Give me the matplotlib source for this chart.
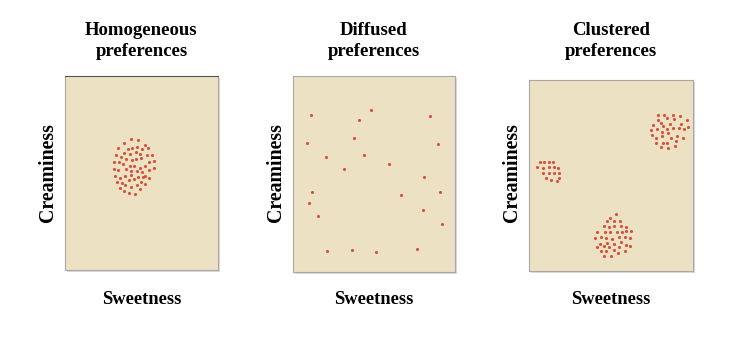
import matplotlib.pyplot as plt
from matplotlib.patches import Rectangle

# point positions (panel units, y grows downward)
homog_x = [215, 235, 193, 258, 175, 205, 218, 233, 248, 267, 192, 210, 228, 242,
           168, 185, 262, 278, 200, 217, 229, 245, 268, 284, 162, 177, 190, 210,
           224, 240, 257, 162, 176, 200, 215, 232, 246, 268, 285, 165, 180, 196,
           215, 234, 251, 258, 270, 172, 187, 207, 222, 245, 196, 213, 233, 257,
           182, 242, 192, 208, 227]
homog_y = [210, 211, 220, 226, 236, 240, 236, 233, 240, 236, 250, 255, 248, 253,
           256, 263, 256, 256, 268, 271, 269, 265, 278, 275, 277, 277, 285, 290,
           290, 296, 291, 298, 302, 300, 305, 305, 307, 302, 297, 319, 326, 321,
           316, 322, 322, 320, 325, 339, 340, 331, 330, 337, 347, 352, 346, 344,
           355, 358, 365, 372, 373]

diff_x = [65, 243, 207, 418, 193, 53, 442, 110, 223, 162, 295, 400, 67, 331,
          447, 59, 397, 85, 453, 113, 187, 257, 379]
diff_y = [137, 122, 153, 140, 205, 222, 224, 262, 257, 300, 285, 323, 367, 375,
          366, 401, 421, 439, 462, 545, 540, 547, 537]

clust_x = [400, 418, 444, 466, 400, 427, 448, 485, 385, 408, 436, 468, 415, 379,
           397, 425, 445, 462, 478, 490, 410, 430, 380, 394, 410, 438, 457, 475,
           392, 413, 426, 454, 408, 429, 450,
           45, 57, 72, 84, 38, 56, 73, 88, 101, 55, 72, 88, 104, 65, 80, 96, 104,
           273, 255, 246, 266, 285, 237, 253, 268, 287, 302, 216, 240, 257, 275,
           290, 304, 319, 210, 228, 244, 261, 281, 300, 315, 225, 248, 268, 287,
           303, 217, 238, 254, 283, 316, 230, 245, 268, 299, 237, 258, 278]
clust_y = [121, 121, 121, 125, 137, 131, 135, 137, 152, 145, 148, 149, 155, 166,
           165, 163, 160, 160, 165, 157, 174, 176, 183, 190, 186, 192, 185, 190,
           207, 205, 206, 200, 217, 220, 216,
           264, 264, 264, 264, 278, 281, 279, 278, 281, 297, 296, 296, 297, 311,
           316, 320, 310,
           418, 430, 440, 440, 440, 455, 456, 455, 455, 457, 472, 472, 472, 471,
           472, 470, 470, 490, 486, 491, 492, 488, 488, 491, 506, 503, 507, 500,
           511, 517, 514, 515, 515, 514, 527, 528, 525, 527, 543, 543, 534]

titles = ["Homogeneous\npreferences", "Diffused\npreferences", "Clustered\npreferences"]
panels = [(homog_x, homog_y, (15, 477), (602, 20)),
          (diff_x, diff_y, (12, 492), (607, 20)),
          (clust_x, clust_y, (13, 504), (588, 18))]
boxes = [(65, 76, 218, 270), (293, 76, 455, 272), (529, 80, 693, 271)]

W, H = 732, 338
fig = plt.figure(figsize=(W / 100, H / 100), dpi=100)
font = "Liberation Serif"

for (xs, ys, xl, yl), (x0, y0, x1, y1), title in zip(panels, boxes, titles):
    # soft shadow behind the panel
    fig.patches.append(Rectangle(((x0 + 2) / W, 1 - (y1 + 2) / H), (x1 - x0) / W,
                                 (y1 - y0) / H, transform=fig.transFigure,
                                 facecolor="#d9d9d9", edgecolor="none", zorder=-1))
    ax = fig.add_axes([x0 / W, 1 - y1 / H, (x1 - x0) / W, (y1 - y0) / H])
    ax.set_facecolor("#ede1c4")
    ax.scatter(xs, ys, s=5, color="#d6503a", linewidths=0)
    ax.set_xlim(*xl)
    ax.set_ylim(*yl)
    ax.set_xticks([])
    ax.set_yticks([])
    for sp in ax.spines.values():
        sp.set_color("#a8a8a8")
        sp.set_linewidth(0.8)
    cx = (x0 + x1) / 2 / W
    fig.text(cx, 1 - 41 / H, title, ha="center", va="center", fontsize=13.5,
             fontweight="bold", family=font, linespacing=1.3)
    fig.text(cx, 1 - 300 / H, "Sweetness", ha="center", va="center", fontsize=13.3,
             fontweight="bold", family=font)
    fig.text((x0 - 17) / W, 1 - 173 / H, "Creaminess", ha="center", va="center",
             rotation=90, fontsize=14.3, fontweight="bold", family=font)

fig.axes[0].spines["top"].set_color("#555555")

plt.savefig("out.png", dpi=100)
plt.close()
